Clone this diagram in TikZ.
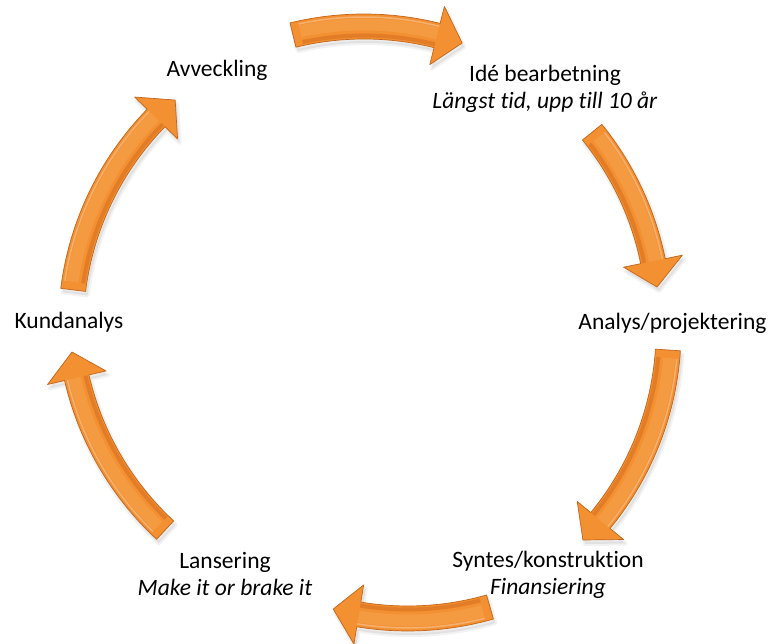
\documentclass[tikz,border=0pt]{standalone}
\usepackage{fontspec}
\setmainfont{Carlito}[Ligatures=NoCommon]
\definecolor{arrowfill}{RGB}{242,144,50}
\definecolor{arrowedge}{RGB}{196,100,24}
\definecolor{arrowlight}{RGB}{250,178,100}
\definecolor{arrowdark}{RGB}{218,112,30}
\tikzset{
  lbl/.style={inner sep=0pt, font=\fontsize{23.5}{27}\selectfont, align=center, text=black},
}
% arrow outline: tail angle, head-base angle, tip angle (centred at origin, radius 300)
\newcommand\arrowshape[3]{(#1:312.5) arc[start angle=#1,end angle=#2,radius=312.5pt] -- (#2:330) -- (#3:300) -- (#2:270) -- (#2:287.5) arc[start angle=#2,end angle=#1,radius=287.5pt] -- cycle}
% cycle arrow: centre x, centre y, tail angle, tip angle
\newcommand\cyclearrow[4]{%
  \pgfmathsetmacro\headang{#4+5}%
  \pgfmathsetmacro\tailin{#3-1.5}%
  \begin{scope}[shift={(#1,#2)}]
    \begin{scope}[shift={(2,-4)}]
      \fill[black,opacity=.07] \arrowshape{#3}{\headang}{#4};
      \draw[black,opacity=.05,line width=4pt,line join=round] \arrowshape{#3}{\headang}{#4};
    \end{scope}
    \fill[arrowfill] \arrowshape{#3}{\headang}{#4};
    \draw[arrowdark,opacity=.6,line width=4pt] (\tailin:291) arc[start angle=\tailin,end angle=\headang,radius=291pt];
    \draw[arrowlight,opacity=.3,line width=12pt] (\tailin:302) arc[start angle=\tailin,end angle=\headang,radius=302pt];
    \draw[white,opacity=.3,line width=1.5pt] (\tailin:309.5) arc[start angle=\tailin,end angle=\headang,radius=309.5pt];
    \draw[arrowedge,line width=.7pt,line join=round] \arrowshape{#3}{\headang}{#4};
  \end{scope}}
\begin{document}
\begin{tikzpicture}[x=1pt,y=1pt]
\useasboundingbox (0,0) rectangle (769,644);
% arrows
\cyclearrow{364}{317.5}{103.7}{70.9}
\cyclearrow{359}{323}{39.0}{6.5}
\cyclearrow{368.6}{313.9}{-3.8}{-44.4}
\cyclearrow{407.8}{325.5}{-74.1}{-104.4}
\cyclearrow{369}{334}{-132.8}{-171.95}
\cyclearrow{370.8}{316.5}{172.8}{130.7}
% labels
\node[lbl,anchor=base] (avv) at (217,567) {Avveckling};
\node[lbl,anchor=north] (ide) at (545,581.9) {\strut Idé bearbetning\\\textit{Längst tid, upp till 10 år}};
\node[lbl,anchor=base] (ana) at (672.5,314) {Analys/projektering};
\node[lbl,anchor=north] (syn) at (548,95.9) {\strut Syntes/konstruktion\\\textit{Finansiering}};
\node[lbl,anchor=north] (lan) at (225,94.9) {\strut Lansering\\\textit{Make it or brake it}};
\node[lbl,anchor=base] (kun) at (69,315) {Kundanalys};
\end{tikzpicture}
\end{document}
